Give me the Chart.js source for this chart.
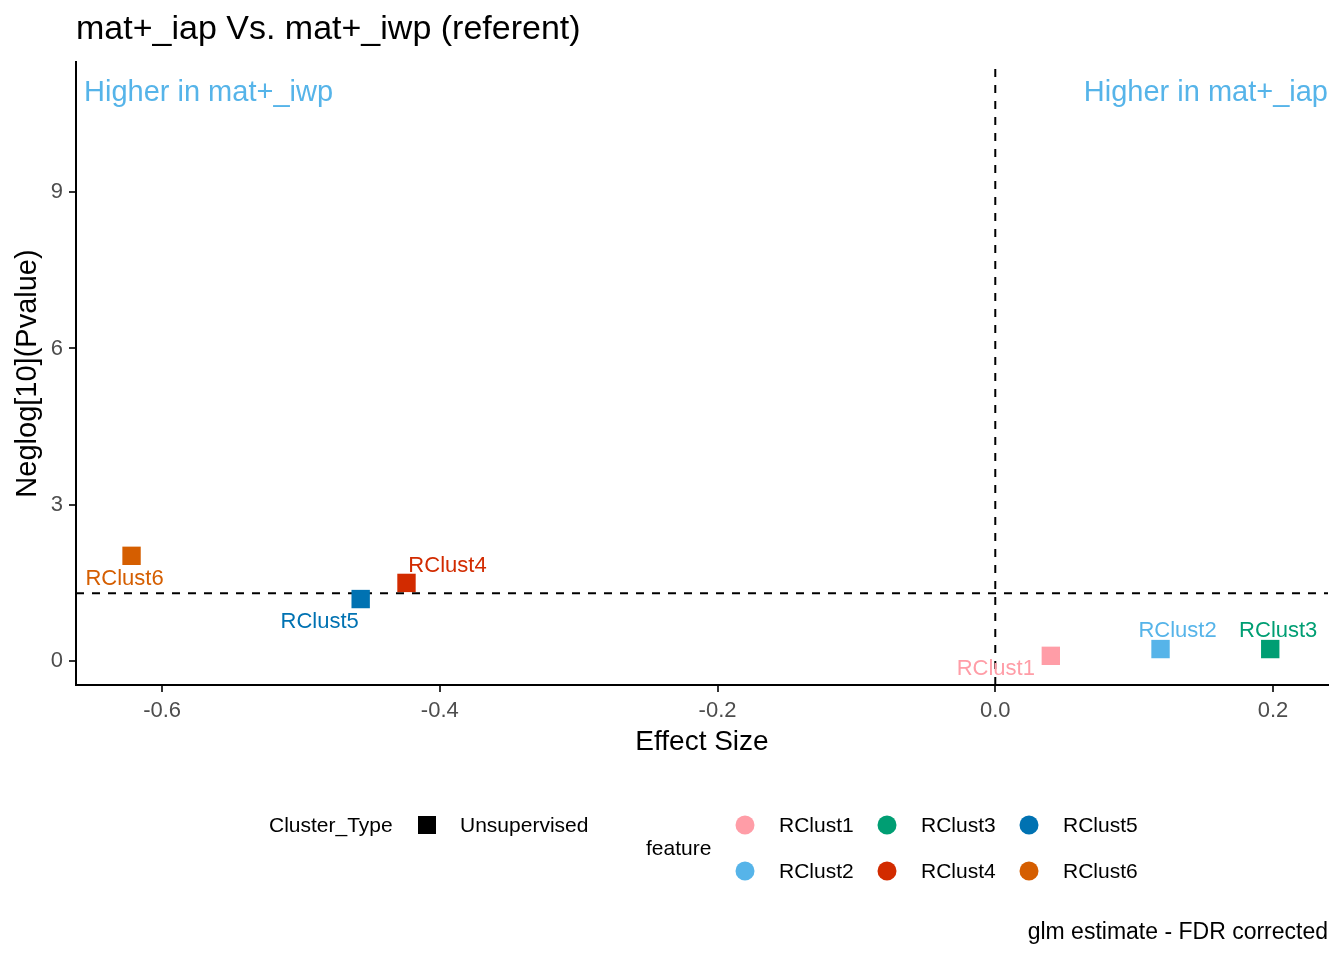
<!DOCTYPE html>
<html>
<head>
<meta charset="utf-8">
<script src="https://cdn.jsdelivr.net/npm/chart.js@4"></script>
<style>
  html, body { margin: 0; padding: 0; background: #fff; }
  #wrap { width: 1344px; height: 960px; }
</style>
</head>
<body>
<div id="wrap"><canvas id="volcano"></canvas></div>
<script>
// data
const features = ['RClust1', 'RClust2', 'RClust3', 'RClust4', 'RClust5', 'RClust6'];
const effectSize = [0.040, 0.119, 0.198, -0.424, -0.457, -0.622];
const neglogP = [0.10, 0.23, 0.23, 1.50, 1.19, 2.02];
const featureColors = ['#FF9DA7', '#56B4E9', '#009E73', '#D22B00', '#0072B2', '#D55E00'];
const xTicks = [-0.6, -0.4, -0.2, 0.0, 0.2];
const yTicks = [0, 3, 6, 9];
const pThreshold = -Math.log10(0.05);

// where ggrepel put each label, relative to its point (px)
const labelOffsets = [[-55, 13], [17, -18], [8, -18], [41, -17], [-41, 23], [-7, 23]];

const FONT = 'Liberation Sans, Arial, sans-serif';

const extras = {
    id: 'extras',
    beforeDatasetsDraw(chart) {
        const {ctx, chartArea, scales} = chart;
        const x = scales.x, y = scales.y;
        ctx.save();
        ctx.strokeStyle = '#000';
        ctx.lineWidth = 2;
        ctx.setLineDash([8, 8]);
        ctx.beginPath();
        const yy = y.getPixelForValue(pThreshold);
        ctx.moveTo(chartArea.left, yy);
        ctx.lineTo(chartArea.right, yy);
        const xx = x.getPixelForValue(0);
        ctx.moveTo(xx, chartArea.top + 7);
        ctx.lineTo(xx, chartArea.bottom);
        ctx.stroke();
        ctx.restore();
    },
    afterDatasetsDraw(chart) {
        const {ctx, chartArea, scales} = chart;
        const x = scales.x, y = scales.y;
        ctx.save();
        // point labels
        ctx.font = '22px ' + FONT;
        ctx.textAlign = 'center';
        ctx.textBaseline = 'middle';
        features.forEach((f, i) => {
            ctx.fillStyle = featureColors[i];
            ctx.fillText(f, x.getPixelForValue(effectSize[i]) + labelOffsets[i][0],
                y.getPixelForValue(neglogP[i]) + labelOffsets[i][1]);
        });

        // direction annotations
        ctx.font = '29px ' + FONT;
        ctx.fillStyle = '#56B4E9';
        ctx.textAlign = 'left';
        ctx.fillText('Higher in mat+_iwp', chartArea.left + 8, 93);
        ctx.textAlign = 'right';
        ctx.fillText('Higher in mat+_iap', chartArea.right, 93);

        // title
        ctx.fillStyle = '#000';
        ctx.textAlign = 'left';
        ctx.font = '34px ' + FONT;
        ctx.fillText('mat+_iap Vs. mat+_iwp (referent)', chartArea.left, 30);

        // axis titles
        ctx.font = '28px ' + FONT;
        ctx.textAlign = 'center';
        ctx.fillText('Effect Size', (chartArea.left + chartArea.right) / 2, 742);
        ctx.save();
        ctx.translate(28, (chartArea.top + chartArea.bottom) / 2);
        ctx.rotate(-Math.PI / 2);
        ctx.font = '29px ' + FONT;
        ctx.fillText('Neglog[10](Pvalue)', 0, 0);
        ctx.restore();

        // legends
        ctx.font = '21px ' + FONT;
        ctx.textAlign = 'left';
        ctx.fillText('Cluster_Type', 269, 826);
        ctx.fillRect(418, 816, 18, 18);
        ctx.fillText('Unsupervised', 460, 826);
        ctx.fillText('feature', 646, 849);
        features.forEach((f, i) => {
            const cx = 745 + Math.floor(i / 2) * 142;
            const cy = i % 2 === 0 ? 825 : 871;
            ctx.fillStyle = featureColors[i];
            ctx.beginPath();
            ctx.arc(cx, cy, 9.5, 0, Math.PI * 2);
            ctx.fill();
            ctx.fillStyle = '#000';
            ctx.fillText(f, cx + 34, cy + 1);
        });

        // caption
        ctx.font = '23px ' + FONT;
        ctx.textAlign = 'right';
        ctx.fillText('glm estimate - FDR corrected', chartArea.right, 933);
        ctx.restore();
    }
};

new Chart(
    document.getElementById('volcano'),
    {
        type: 'scatter',
        data: {
            datasets: [
                {
                    label: 'Unsupervised',
                    data: features.map((f, i) => ({x: effectSize[i], y: neglogP[i]})),
                    backgroundColor: featureColors,
                    borderColor: featureColors,
                    borderWidth: 0,
                    pointStyle: 'rect',
                    pointRadius: 13,
                    pointHoverRadius: 13
                }
            ]
        },
        options: {
            responsive: true,
            maintainAspectRatio: false,
            animation: false,
            layout: {
                padding: {top: 62, right: 16, bottom: 0, left: 0}
            },
            plugins: {
                legend: { display: false },
                tooltip: { enabled: false }
            },
            scales: {
                x: {
                    type: 'linear',
                    min: -0.662,
                    max: 0.2396,
                    afterBuildTicks: s => { s.ticks = xTicks.map(v => ({value: v})); },
                    afterFit: s => { s.height = 960 - 685; },
                    border: { display: true, color: '#000', width: 2 },
                    grid: { drawOnChartArea: false, drawTicks: true, tickLength: 7, color: '#333', lineWidth: 2 },
                    ticks: {
                        color: '#4D4D4D',
                        font: { family: FONT, size: 22 },
                        padding: 6,
                        callback: v => v.toFixed(1)
                    }
                },
                y: {
                    type: 'linear',
                    min: -0.46,
                    max: 11.5,
                    afterBuildTicks: s => { s.ticks = yTicks.map(v => ({value: v})); },
                    afterFit: s => { s.width = 76; },
                    border: { display: true, color: '#000', width: 2 },
                    grid: { drawOnChartArea: false, drawTicks: true, tickLength: 7, color: '#333', lineWidth: 2 },
                    ticks: {
                        color: '#4D4D4D',
                        font: { family: FONT, size: 22 },
                        padding: 6,
                        callback: v => String(v)
                    }
                }
            }
        },
        plugins: [extras]
    }
)
</script>
</body>
</html>
